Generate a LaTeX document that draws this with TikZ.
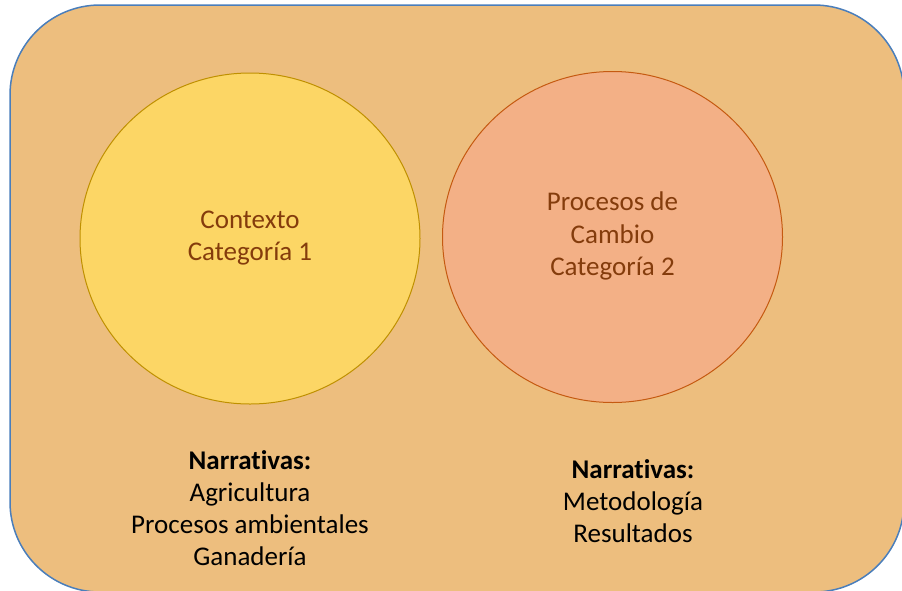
\documentclass[tikz,border=0pt]{standalone}
\usepackage{fontspec}
\setmainfont{Carlito}[Ligatures=NoCommon]
\usepackage{xcolor}
\usetikzlibrary{shapes.geometric,positioning}
\definecolor{panelfill}{HTML}{EDBE7E}
\definecolor{panelline}{HTML}{4A7EBB}
\definecolor{ctxfill}{HTML}{FCD665}
\definecolor{ctxline}{HTML}{BF9000}
\definecolor{procfill}{HTML}{F3B086}
\definecolor{procline}{HTML}{C55A11}
\definecolor{labeltext}{HTML}{843C0C}

\begin{document}
\begin{tikzpicture}[x=1pt,y=-1pt,font=\fontsize{27}{32.5}\selectfont]
\tikzstyle{blob}=[ellipse,draw,line width=1pt,minimum width=340pt,minimum height=331pt,inner sep=0pt,align=center,text=labeltext,text depth=6pt]
\tikzstyle{story}=[align=center,inner sep=0pt,font=\fontsize{27}{32}\selectfont]
\useasboundingbox (0,0) rectangle (902,590);
\clip (0,0) rectangle (902,590);
\node[draw=panelline,fill=panelfill,line width=1.5pt,rounded corners=90pt,minimum width=894pt,minimum height=587pt,inner sep=0pt] (frame) at (457,298.5) {};
\node[blob,fill=ctxfill,draw=ctxline] (ctx) at (250,238.5) {Contexto\\Categoría 1};
\node[blob,fill=procfill,draw=procline] (proc) at (612.5,237) {Procesos de\\Cambio\\Categoría 2};
\node[story] (narrL) at (250,508.5) {\textbf{Narrativas:}\\Agricultura\\Procesos ambientales\\Ganadería};
\node[story] (narrR) at (633,501) {\textbf{Narrativas:}\\Metodología\\Resultados};
\end{tikzpicture}
\end{document}
